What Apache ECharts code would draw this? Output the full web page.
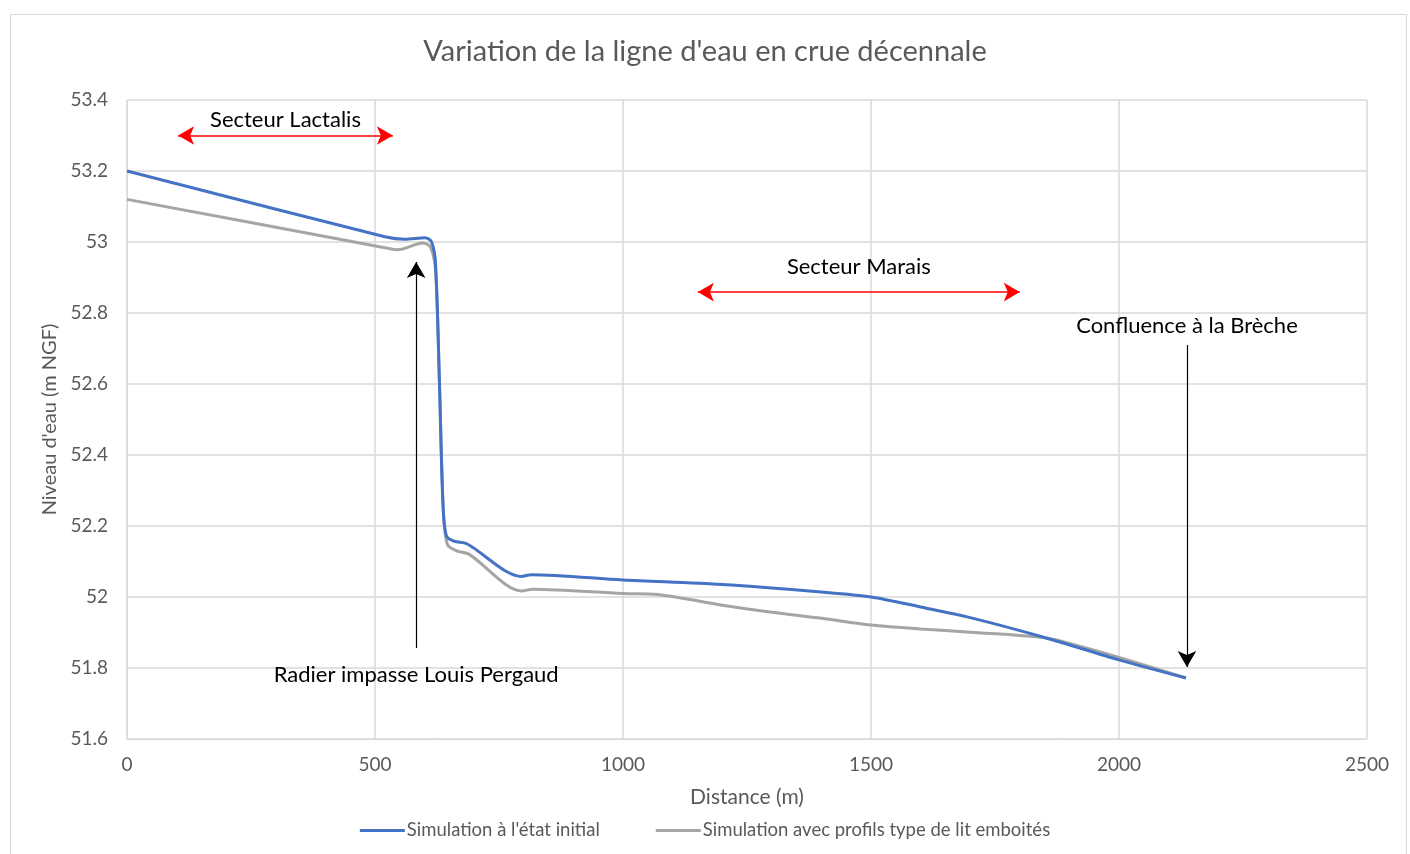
<!DOCTYPE html>
<html>
<head>
<meta charset="utf-8">
<script src="https://cdn.jsdelivr.net/npm/echarts@6/dist/echarts.min.js"></script>
<style>
html,body{margin:0;padding:0;background:#fff;}
#chart{width:1410px;height:854px;}
</style>
</head>
<body>
<div id="chart"></div>
<script>
const titleText = "Variation de la ligne d'eau en crue décennale";
const xAxisName = "Distance (m)";
const yAxisName = "Niveau d'eau (m NGF)";
const seriesNames = ["Simulation à l'état initial", "Simulation avec profils type de lit emboités"];

const blueX = [0, 520, 560, 601, 614, 622, 630, 637, 644, 660, 685, 796, 815, 1000, 1200, 1400, 1500, 1600, 1700, 1850, 2000, 2135];
const blueY = [53.2, 53.015, 53.008, 53.012, 53.0, 52.94, 52.6, 52.26, 52.172, 52.157, 52.15, 52.058, 52.063, 52.048, 52.035, 52.014, 52.0, 51.972, 51.942, 51.886, 51.823, 51.772];

const grayX = [0, 520, 545, 597, 612, 622, 630, 638, 646, 665, 690, 796, 818, 1000, 1070, 1200, 1300, 1400, 1500, 1600, 1700, 1850, 1935, 2000, 2135];
const grayY = [53.12, 52.984, 52.978, 52.997, 52.985, 52.92, 52.6, 52.24, 52.148, 52.13, 52.12, 52.017, 52.022, 52.01, 52.007, 51.977, 51.957, 51.94, 51.921, 51.91, 51.901, 51.885, 51.856, 51.83, 51.772];

// annotations (data coordinates)
const lactalis = {text: "Secteur Lactalis", x1: 103, x2: 536, y: 53.30};
const marais = {text: "Secteur Marais", x1: 1151, x2: 1800, y: 52.859};
const radier = {text: "Radier impasse Louis Pergaud", x: 583, yFrom: 51.856, yTo: 52.944};
const confluence = {text: "Confluence à la Brèche", x: 2137, yFrom: 52.71, yTo: 51.803};

const font = "Lato, 'Open Sans', sans-serif";
const zip = (xs, ys) => xs.map((x, i) => [x, ys[i]]);

const chart = echarts.init(document.getElementById('chart'));
const annLabel = {color: '#000', fontSize: 22, fontFamily: font};
chart.setOption({
  animation: false,
  backgroundColor: '#fff',
  graphic: [{
    type: 'rect', left: 8, top: 12, shape: {width: 1396, height: 850},
    style: {fill: 'none', stroke: '#d9d9d9', lineWidth: 1}, silent: true
  }],
  title: {
    text: titleText, left: 'center', top: 32,
    textStyle: {color: '#595959', fontSize: 29, fontWeight: 'normal', fontFamily: font}
  },
  grid: {left: 127, right: 43, top: 100, bottom: 115, containLabel: false},
  xAxis: {
    type: 'value', min: 0, max: 2500, interval: 500,
    name: xAxisName, nameLocation: 'middle', nameGap: 48,
    nameTextStyle: {color: '#595959', fontSize: 21, fontFamily: font},
    axisLine: {show: true, lineStyle: {color: '#d9d9d9'}},
    axisTick: {show: false},
    axisLabel: {color: '#595959', fontSize: 19, fontFamily: font, margin: 16,
      formatter: v => String(v)},
    splitLine: {show: true, lineStyle: {color: '#d9d9d9', width: 1.5}}
  },
  yAxis: {
    type: 'value', min: 51.6, max: 53.4, interval: 0.2,
    name: yAxisName, nameLocation: 'middle', nameGap: 62, nameRotate: 90,
    nameTextStyle: {color: '#595959', fontSize: 20, fontFamily: font},
    axisLine: {show: true, lineStyle: {color: '#d9d9d9'}},
    axisTick: {show: false},
    axisLabel: {color: '#595959', fontSize: 19, fontFamily: font, margin: 19,
      formatter: v => String(+v.toFixed(1))},
    splitLine: {show: true, lineStyle: {color: '#d9d9d9', width: 1.5}}
  },
  legend: {
    data: seriesNames, bottom: 9, left: 'center', itemGap: 56,
    itemWidth: 45, itemHeight: 3, icon: 'rect',
    textStyle: {color: '#595959', fontSize: 18.5, fontFamily: font, padding: [0, 0, 0, -3]}
  },
  series: [
    {
      name: seriesNames[0], type: 'line', data: zip(blueX, blueY),
      showSymbol: false, symbol: 'none', smooth: 0.3,
      lineStyle: {color: '#4472C4', width: 3}, itemStyle: {color: '#4472C4'}, z: 3,
      markLine: {
        silent: true, animation: false, symbolSize: [14, 16],
        data: [
          [{coord: [lactalis.x1, lactalis.y], symbol: 'arrow',
            lineStyle: {color: '#ff0000', width: 1.5, type: 'solid'}, itemStyle: {color: '#ff0000'},
            label: Object.assign({show: true, formatter: lactalis.text, position: 'insideMiddleTop', distance: 5}, annLabel)},
           {coord: [lactalis.x2, lactalis.y], symbol: 'arrow'}],
          [{coord: [marais.x1, marais.y], symbol: 'arrow',
            lineStyle: {color: '#ff0000', width: 1.5, type: 'solid'}, itemStyle: {color: '#ff0000'},
            label: Object.assign({show: true, formatter: marais.text, position: 'insideMiddleTop', distance: 14}, annLabel)},
           {coord: [marais.x2, marais.y], symbol: 'arrow'}],
          [{coord: [radier.x, radier.yFrom], symbol: 'none',
            lineStyle: {color: '#000', width: 1.2, type: 'solid'}, itemStyle: {color: '#000'},
            label: Object.assign({show: true, formatter: radier.text, position: 'start', distance: 16}, annLabel)},
           {coord: [radier.x, radier.yTo], symbol: 'arrow'}],
          [{coord: [confluence.x, confluence.yFrom], symbol: 'none',
            lineStyle: {color: '#000', width: 1.2, type: 'solid'}, itemStyle: {color: '#000'},
            label: Object.assign({show: true, formatter: confluence.text, position: 'start', distance: 8}, annLabel)},
           {coord: [confluence.x, confluence.yTo], symbol: 'arrow'}]
        ]
      }
    },
    {
      name: seriesNames[1], type: 'line', data: zip(grayX, grayY),
      showSymbol: false, symbol: 'none', smooth: 0.3,
      lineStyle: {color: '#A5A5A5', width: 3}, itemStyle: {color: '#A5A5A5'}, z: 2
    }
  ]
});
</script>
</body>
</html>
